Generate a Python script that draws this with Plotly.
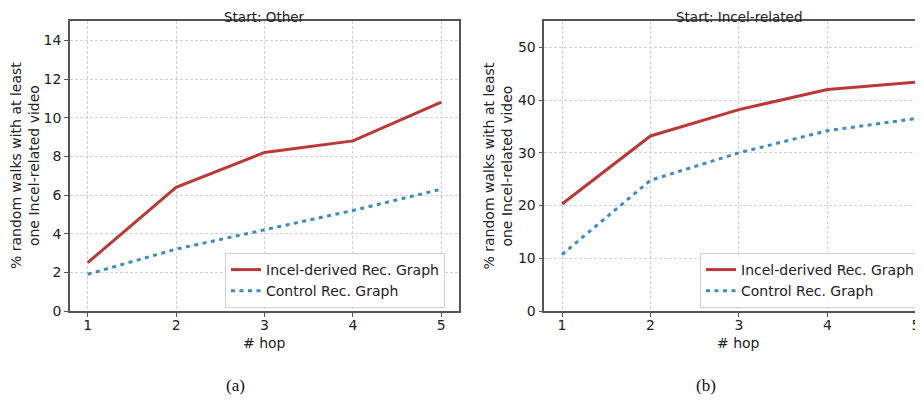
import plotly.graph_objects as go

hops = [1, 2, 3, 4, 5]
other_incel = [2.5, 6.4, 8.2, 8.8, 10.8]
other_control = [1.9, 3.2, 4.2, 5.2, 6.3]
incel_incel = [20.3, 33.2, 38.2, 42.0, 43.4]
incel_control = [10.7, 24.8, 30.0, 34.2, 36.5]
titles = ["Start: Other", "Start: Incel-related"]
captions = ["(a)", "(b)"]
names = ["Incel-derived Rec. Graph", "Control Rec. Graph"]
ytitle = "% random walks with at least<br>one Incel-related video"

RED = "rgba(178,34,34,0.9)"
BLUE = "rgba(31,119,180,0.85)"
FONT = "DejaVu Sans"
TXT = "#222"
OFF = 8  # browser body margin
W, H = 923 - OFF, 401 - OFF


def px(x):
    return (x - OFF) / W


def py(y):
    return 1 - (y - OFF) / H


fig = go.Figure()
series = [(other_incel, other_control, "x", "y", "legend"),
          (incel_incel, incel_control, "x2", "y2", "legend2")]
for inc, ctl, xa, ya, lg in series:
    fig.add_trace(go.Scatter(x=hops, y=inc, mode="lines", name=names[0], legend=lg,
                             line=dict(color=RED, width=3), xaxis=xa, yaxis=ya))
    fig.add_trace(go.Scatter(x=hops, y=ctl, mode="lines", name=names[1], legend=lg,
                             line=dict(color=BLUE, width=3, dash="4px,4.5px"), xaxis=xa, yaxis=ya))

dom_a = [px(70), px(459)]
dom_b = [px(544.3), 1.0]
dom_y = [py(311), py(21)]

ax_common = dict(showline=True, linecolor="#555", linewidth=1.5, mirror=True,
                 showgrid=True, gridcolor="#d0d0d0", griddash="3px,2px", gridwidth=1,
                 ticks="outside", ticklen=4, tickcolor="#555", zeroline=False,
                 tickfont=dict(family=FONT, size=14, color=TXT), automargin=False)

leg_common = dict(xanchor="left", yanchor="middle",
                  bgcolor="rgba(255,255,255,0.85)", bordercolor="#d0d0d0", borderwidth=1,
                  font=dict(family=FONT, size=14, color=TXT), tracegroupgap=0)

fig.update_layout(
    width=W, height=H,
    margin=dict(l=0, r=0, t=0, b=0),
    paper_bgcolor="white", plot_bgcolor="white",
    showlegend=True,
    xaxis=dict(domain=dom_a, range=[0.8, 5.2], tickvals=hops, anchor="y",
               ticklabelstandoff=-4, **ax_common),
    yaxis=dict(domain=dom_y, range=[0, 15], tickvals=[0, 2, 4, 6, 8, 10, 12, 14], anchor="x", **ax_common),
    xaxis2=dict(domain=dom_b, range=[0.8, 5.08], tickvals=hops, anchor="y2",
                ticklabelstandoff=-4, **ax_common),
    yaxis2=dict(domain=dom_y, range=[0, 55], tickvals=[0, 10, 20, 30, 40, 50], anchor="x2", **ax_common),
    legend=dict(x=px(225), y=py(280.5), **leg_common),
    legend2=dict(x=px(700), y=py(280.5), **leg_common),
)

ann = []
centers = [(70 + 459) / 2, (544.3 + 933) / 2]
for t, c in zip(titles, centers):
    ann.append(dict(text=t, x=px(c), y=1.0, xanchor="center", yanchor="top", borderpad=0,
                    font=dict(family=FONT, size=13.5, color=TXT)))
    ann.append(dict(text="# hop", x=px(c), y=py(343), xanchor="center", yanchor="middle"))
for xc in (25, 497.5):
    ann.append(dict(text=ytitle, textangle=-90, x=px(xc), y=py(166),
                    xanchor="center", yanchor="middle"))
for a in ann:
    a.update(xref="paper", yref="paper", showarrow=False)
    a.setdefault("font", dict(family=FONT, size=14, color=TXT))
for cap, xc in zip(captions, (235, 706)):
    ann.append(dict(text=cap, x=px(xc), y=py(385), xref="paper", yref="paper",
                    xanchor="center", yanchor="middle", showarrow=False,
                    font=dict(family="Liberation Serif", size=17, color="#111")))
fig.update_layout(annotations=ann)

fig.write_html("out.html")
